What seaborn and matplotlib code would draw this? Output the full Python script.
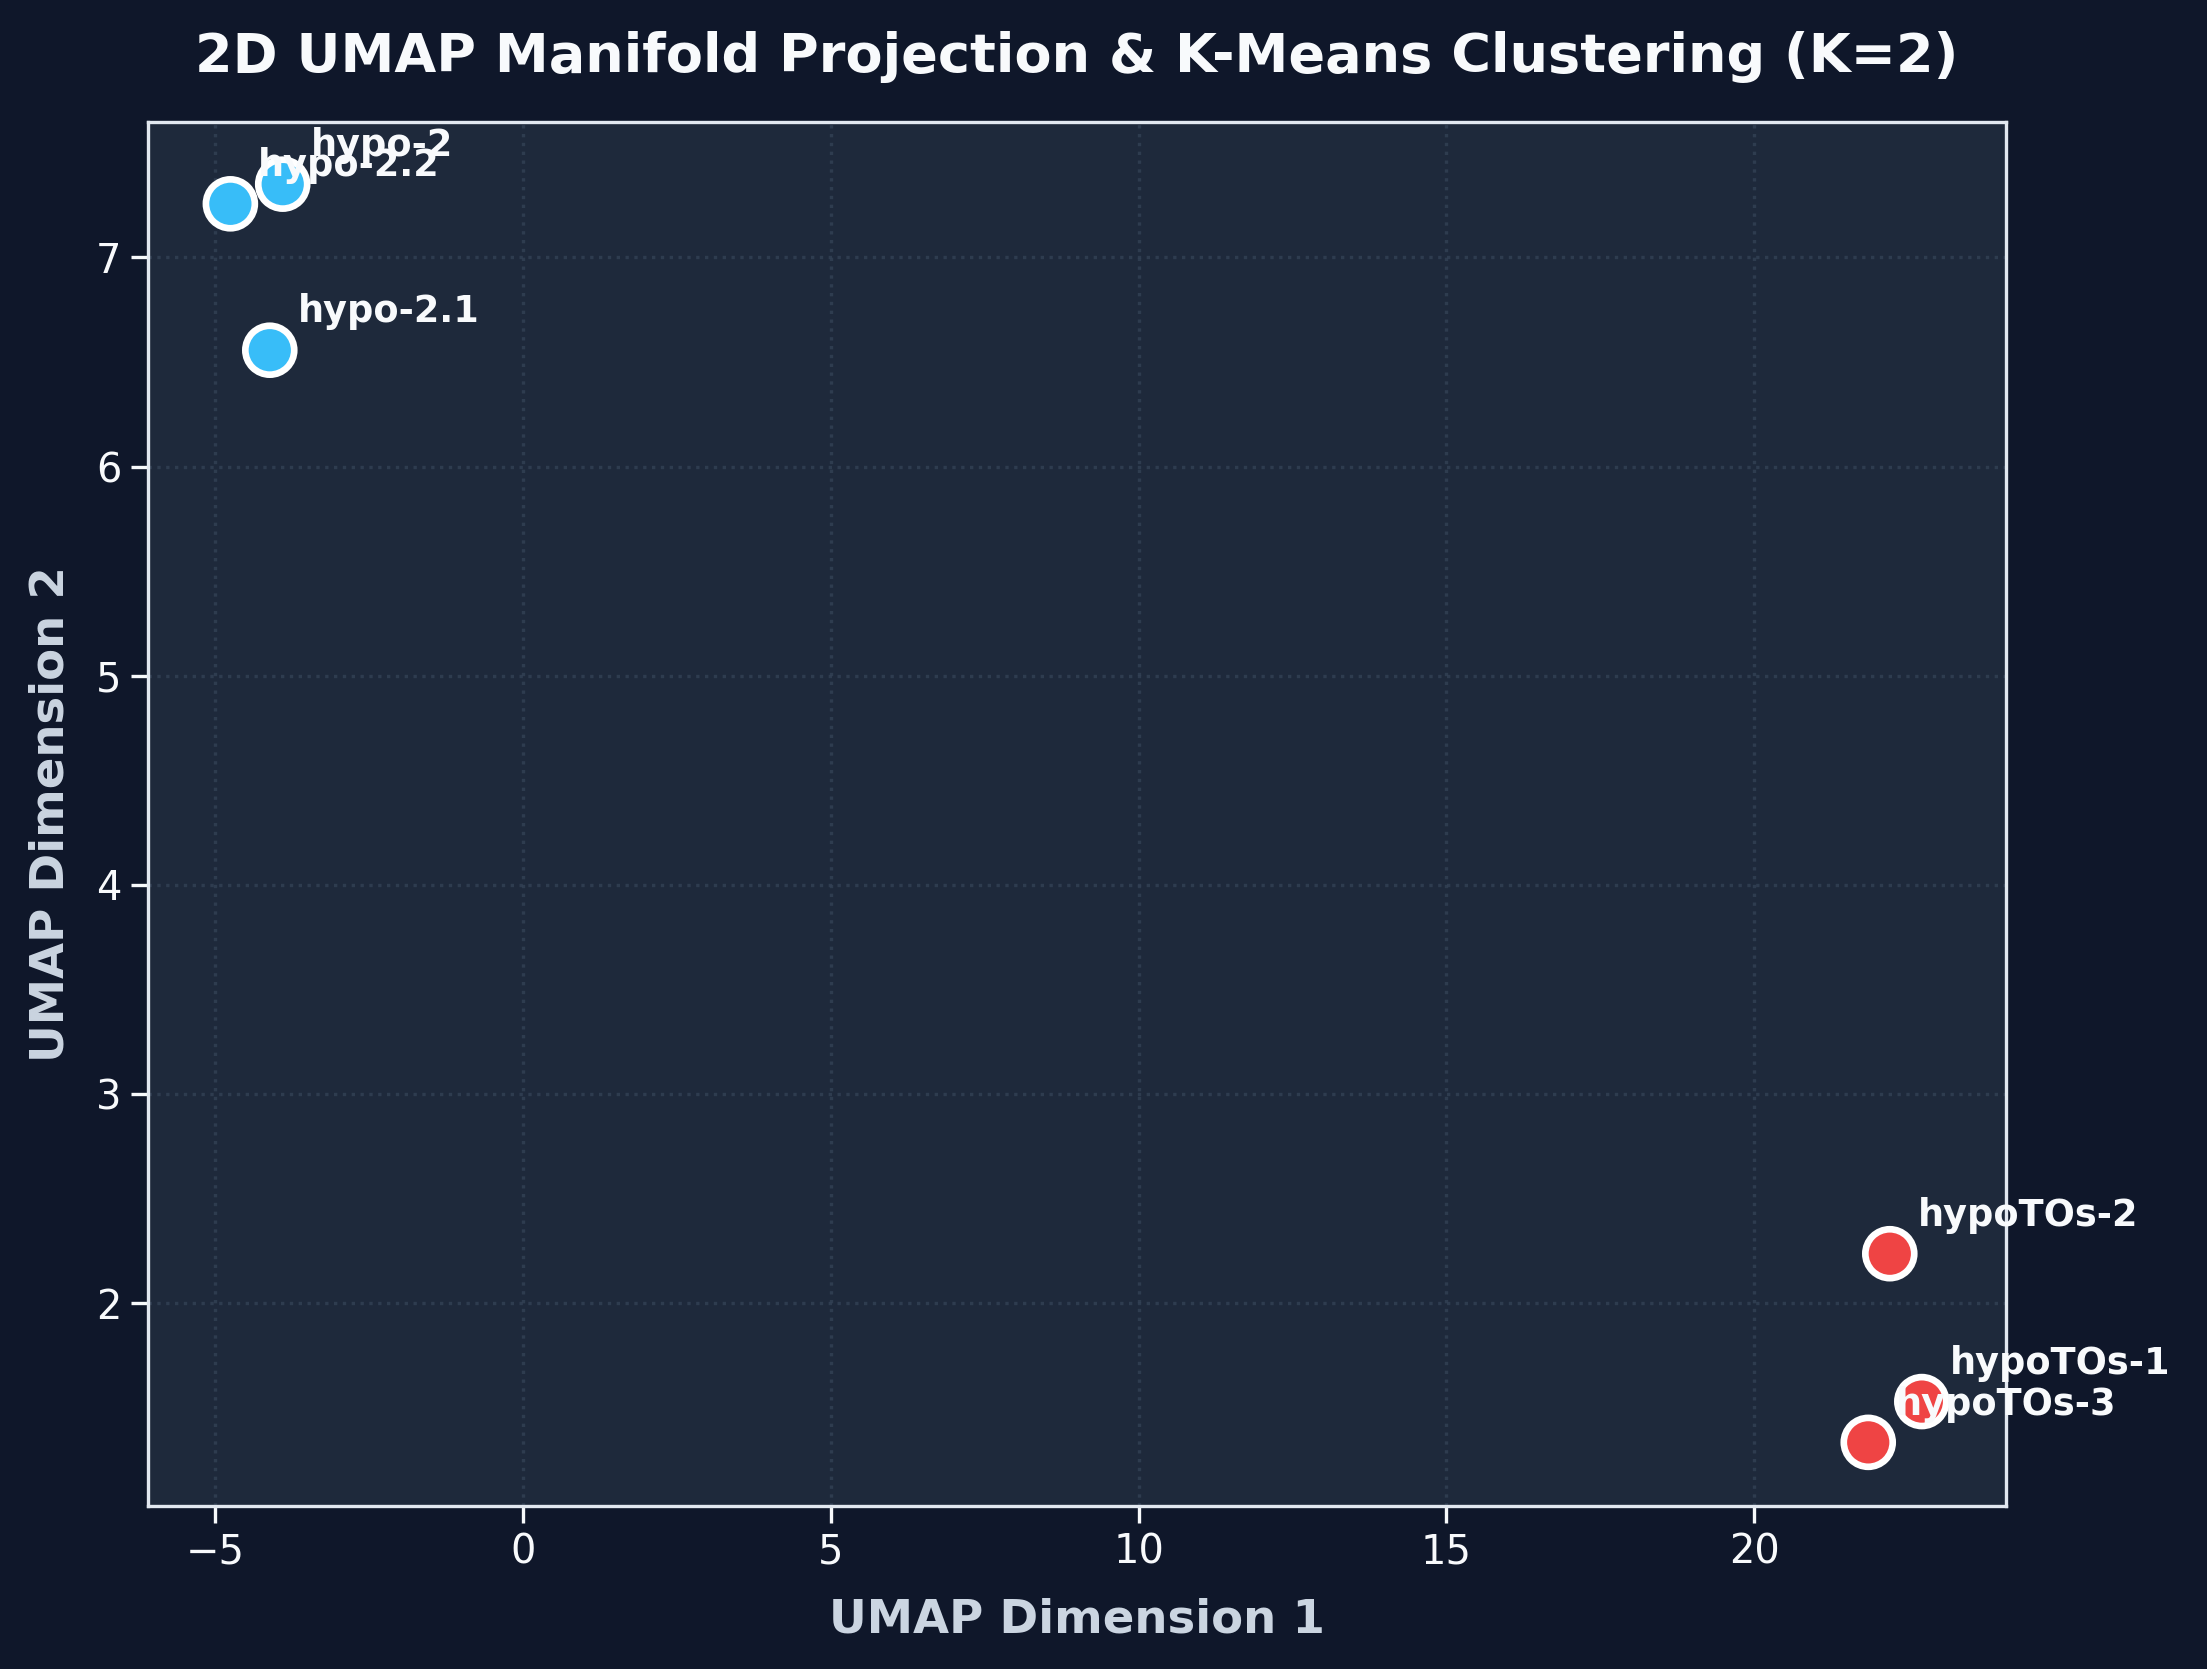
import pandas as pd
import matplotlib.pyplot as plt
import seaborn as sns

# datos
muestras = ['hypo-2.2', 'hypo-2', 'hypo-2.1', 'hypoTOs-2', 'hypoTOs-1', 'hypoTOs-3']
umap_1 = [-4.75, -3.90, -4.11, 22.20, 22.72, 21.85]
umap_2 = [7.256, 7.35, 6.556, 2.236, 1.529, 1.334]
cluster = [0, 0, 0, 1, 1, 1]

df = pd.DataFrame({'muestra': muestras, 'umap_1': umap_1, 'umap_2': umap_2, 'cluster': cluster})

fondo = '#0f172a'
panel = '#1e293b'
colores = {0: '#38bdf8', 1: '#ef4444'}

sns.set_style('dark')
plt.rcParams['font.family'] = ['DejaVu Sans']

fig, ax = plt.subplots(figsize=(11.035, 8.345), dpi=200)
fig.patch.set_facecolor(fondo)
ax.set_facecolor(panel)
fig.subplots_adjust(left=0.067, right=0.909, top=0.927, bottom=0.0977)

sns.scatterplot(data=df, x='umap_1', y='umap_2', hue='cluster', palette=colores,
                s=310, edgecolor='white', linewidth=2.4, legend=False, ax=ax, zorder=3)

for _, fila in df.iterrows():
    ax.annotate(fila['muestra'], (fila['umap_1'], fila['umap_2']),
                xytext=(10, 10), textcoords='offset points',
                fontsize=13.2, fontweight='bold', color='#f8fafc', zorder=4)

ax.set_xlim(-6.09, 24.09)
ax.set_ylim(1.03, 7.648)
ax.grid(True, linestyle=':', color='#334155', linewidth=1.2, alpha=0.8)
for s in ax.spines.values():
    s.set_color('#e2e8f0')
    s.set_linewidth(1.2)
    s.set_visible(True)
ax.tick_params(colors='#f8fafc', labelsize=14.4, length=6, width=1.2, bottom=True, left=True)

ax.set_title('2D UMAP Manifold Projection & K-Means Clustering (K=2)', fontsize=19.5,
             fontweight='bold', color='#f8fafc', pad=18)
ax.set_xlabel('UMAP Dimension 1', fontsize=16.8, fontweight='bold', color='#cbd5e1', labelpad=9)
ax.set_ylabel('UMAP Dimension 2', fontsize=16.8, fontweight='bold', color='#cbd5e1', labelpad=8)

plt.savefig('out.png', dpi=200, facecolor=fondo)
